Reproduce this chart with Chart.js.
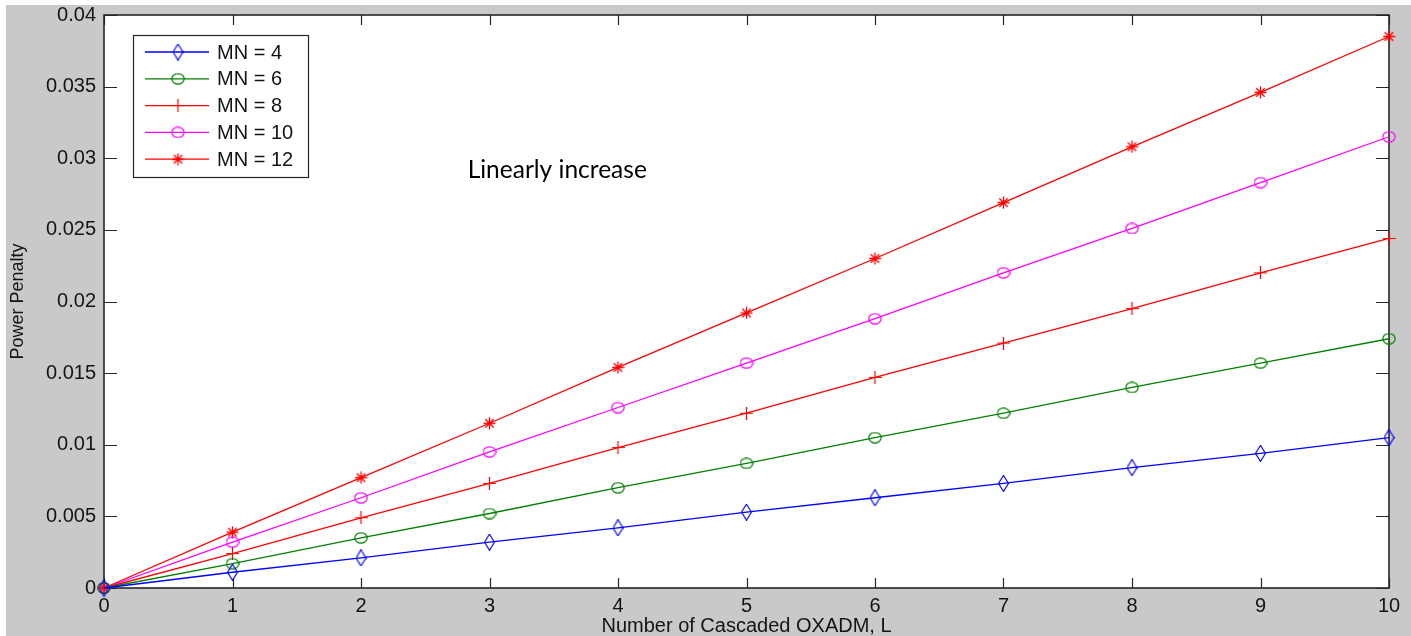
<!DOCTYPE html>
<html>
<head>
<meta charset="utf-8">
<title>Power Penalty vs Number of Cascaded OXADM</title>
<script src="https://cdn.jsdelivr.net/npm/chart.js@4.4.0/dist/chart.umd.min.js"></script>
<style>
  html, body { margin: 0; padding: 0; background: #fff; }
  #wrap { width: 1411px; height: 636px; }
</style>
</head>
<body>
<div id="wrap"><canvas id="penaltyChart" width="1411" height="636"></canvas></div>
<script>
// number of cascaded OXADMs (x axis)
const cascades = [0, 1, 2, 3, 4, 5, 6, 7, 8, 9, 10];

// power penalty for each MN value
const mn4  = [0, 0.0011, 0.0021, 0.0032, 0.0042, 0.0053, 0.0063, 0.0073, 0.0084, 0.0094, 0.0105];
const mn6  = [0, 0.0017, 0.0035, 0.0052, 0.0070, 0.0087, 0.0105, 0.0122, 0.0140, 0.0157, 0.0174];
const mn8  = [0, 0.0024, 0.0049, 0.0073, 0.0098, 0.0122, 0.0147, 0.0171, 0.0195, 0.0220, 0.0244];
const mn10 = [0, 0.0032, 0.0063, 0.0095, 0.0126, 0.0157, 0.0188, 0.0220, 0.0251, 0.0283, 0.0315];
const mn12 = [0, 0.0039, 0.0077, 0.0115, 0.0154, 0.0192, 0.0230, 0.0269, 0.0308, 0.0346, 0.0385];

const seriesLabels = ['MN = 4', 'MN = 6', 'MN = 8', 'MN = 10', 'MN = 12'];

const xTicks = [0, 1, 2, 3, 4, 5, 6, 7, 8, 9, 10];
const xTickLabels = ['0', '1', '2', '3', '4', '5', '6', '7', '8', '9', '10'];
const yTicks = [0, 0.005, 0.01, 0.015, 0.02, 0.025, 0.03, 0.035, 0.04];
const yTickLabels = ['0', '0.005', '0.01', '0.015', '0.02', '0.025', '0.03', '0.035', '0.04'];

const noteText = 'Linearly increase';
const notePos = { x: 2.83, y: 0.0286 };

const AXIS_COLOR = '#262626';
const TEXT_COLOR = '#141414';
const FIG_GRAY = '#c9c9c9';

// MATLAB-like marker glyphs, drawn once to small canvases
function makeMarker(kind, color) {
  const c = document.createElement('canvas');
  let w = 13, h = 13;
  if (kind === 'diamond') { w = 11; h = 17; }
  if (kind === 'circle') { w = 14; h = 12; }
  c.width = w; c.height = h;
  const g = c.getContext('2d');
  g.strokeStyle = color;
  g.lineWidth = 1.2;
  g.beginPath();
  if (kind === 'diamond') {
    g.moveTo(w / 2, 0.5);
    g.lineTo(w - 0.5, h / 2);
    g.lineTo(w / 2, h - 0.5);
    g.lineTo(0.5, h / 2);
    g.closePath();
  } else if (kind === 'circle') {
    g.ellipse(w / 2, h / 2, w / 2 - 0.8, h / 2 - 0.8, 0, 0, Math.PI * 2);
  } else if (kind === 'plus') {
    g.moveTo(w / 2, 0); g.lineTo(w / 2, h);
    g.moveTo(0, h / 2); g.lineTo(w, h / 2);
  } else if (kind === 'star') {
    g.lineWidth = 1.3;
    g.moveTo(w / 2, 0.5); g.lineTo(w / 2, h - 0.5);
    g.moveTo(0.5, h / 2); g.lineTo(w - 0.5, h / 2);
    g.moveTo(2.3, 2.3); g.lineTo(w - 2.3, h - 2.3);
    g.moveTo(w - 2.3, 2.3); g.lineTo(2.3, h - 2.3);
  }
  g.stroke();
  return c;
}

function points(values) {
  return cascades.map((L, i) => ({ x: L, y: values[i] }));
}

function series(label, values, color, marker) {
  return {
    label: label,
    data: points(values),
    borderColor: color,
    backgroundColor: color,
    borderWidth: 1.3,
    pointStyle: makeMarker(marker, color),
    pointRadius: 6,
    pointHoverRadius: 6,
    fill: false,
    tension: 0,
    clip: false
  };
}

// figure background, axes box and inward ticks on all four sides
const matlabFrame = {
  id: 'matlabFrame',
  beforeDraw(chart) {
    const { ctx, chartArea: a } = chart;
    ctx.save();
    ctx.fillStyle = '#fff';
    ctx.fillRect(0, 0, chart.width, chart.height);
    ctx.fillStyle = FIG_GRAY;
    ctx.fillRect(6, 5, chart.width - 6, chart.height - 5);
    ctx.fillStyle = '#fff';
    ctx.fillRect(a.left, a.top, a.right - a.left, a.bottom - a.top);
    ctx.restore();
  },
  beforeDatasetsDraw(chart) {
    const { ctx, chartArea: a, scales } = chart;
    ctx.save();
    ctx.strokeStyle = AXIS_COLOR;
    ctx.lineWidth = 1.2;
    ctx.beginPath();
    xTicks.forEach(v => {
      const px = Math.round(scales.x.getPixelForValue(v)) + 0.5;
      ctx.moveTo(px, a.bottom); ctx.lineTo(px, a.bottom - 10);
      ctx.moveTo(px, a.top); ctx.lineTo(px, a.top + 10);
    });
    yTicks.forEach(v => {
      const py = Math.round(scales.y.getPixelForValue(v)) + 0.5;
      ctx.moveTo(a.left, py); ctx.lineTo(a.left + 13, py);
      ctx.moveTo(a.right, py); ctx.lineTo(a.right - 13, py);
    });
    ctx.stroke();
    ctx.lineWidth = 1.6;
    ctx.strokeRect(a.left, a.top, a.right - a.left, a.bottom - a.top);
    ctx.restore();
  },
  afterDraw(chart) {
    const { ctx, scales } = chart;
    ctx.save();
    // annotation text
    ctx.fillStyle = '#000';
    ctx.font = '24.5px Lato';
    ctx.textBaseline = 'alphabetic';
    ctx.fillText(noteText, scales.x.getPixelForValue(notePos.x), scales.y.getPixelForValue(notePos.y));

    // legend box with line + marker samples
    const bx = 133, by = 35, bw = 175, bh = 142;
    ctx.fillStyle = '#fff';
    ctx.fillRect(bx, by, bw, bh);
    ctx.strokeStyle = AXIS_COLOR;
    ctx.lineWidth = 1.2;
    ctx.strokeRect(bx + 0.5, by + 0.5, bw, bh);
    ctx.font = '20px "Liberation Sans", Arial, sans-serif';
    ctx.textBaseline = 'middle';
    chart.data.datasets.forEach((ds, i) => {
      const y = by + 17 + i * 26.8;
      ctx.strokeStyle = ds.borderColor;
      ctx.lineWidth = ds.borderWidth;
      ctx.beginPath();
      ctx.moveTo(bx + 12, y); ctx.lineTo(bx + 76, y);
      ctx.stroke();
      const m = ds.pointStyle;
      ctx.drawImage(m, bx + 45 - m.width / 2, y - m.height / 2);
      ctx.fillStyle = TEXT_COLOR;
      ctx.fillText(ds.label, bx + 84, y + 1);
    });
    ctx.restore();
  }
};

const ctx = document.getElementById('penaltyChart').getContext('2d');

const penaltyChart = new Chart(ctx, {
  type: 'line',
  data: {
    datasets: [
      series(seriesLabels[0], mn4,  '#0000ff', 'diamond'),
      series(seriesLabels[1], mn6,  '#008000', 'circle'),
      series(seriesLabels[2], mn8,  '#ff0000', 'plus'),
      series(seriesLabels[3], mn10, '#ff00ff', 'circle'),
      series(seriesLabels[4], mn12, '#ff0000', 'star')
    ]
  },
  options: {
    responsive: false,
    animation: false,
    events: [],
    layout: { padding: { left: 0, top: 15, right: 22, bottom: 0 } },
    plugins: {
      legend: { display: false },
      tooltip: { enabled: false }
    },
    scales: {
      x: {
        type: 'linear',
        min: 0,
        max: 10,
        afterBuildTicks: s => { s.ticks = xTicks.map(v => ({ value: v })); },
        afterFit: s => { s.height = 48; },
        grid: { display: false, drawTicks: false },
        border: { display: false },
        ticks: {
          padding: 6,
          color: TEXT_COLOR,
          font: { family: '"Liberation Sans", Arial, sans-serif', size: 20 },
          maxRotation: 0,
          callback: (v, i) => xTickLabels[i]
        },
        title: {
          display: true,
          text: 'Number of Cascaded OXADM, L',
          color: TEXT_COLOR,
          font: { family: '"Liberation Sans", Arial, sans-serif', size: 20, lineHeight: 1 },
          padding: { top: 0, bottom: 0 }
        }
      },
      y: {
        type: 'linear',
        min: 0,
        max: 0.04,
        afterBuildTicks: s => { s.ticks = yTicks.map(v => ({ value: v })); },
        afterFit: s => { s.width = 104; s.paddingTop = 0; s.paddingBottom = 0; },
        grid: { display: false, drawTicks: false },
        border: { display: false },
        ticks: {
          padding: 8,
          color: TEXT_COLOR,
          font: { family: '"Liberation Sans", Arial, sans-serif', size: 20 },
          callback: (v, i) => yTickLabels[i]
        },
        title: {
          display: true,
          text: 'Power Penalty',
          color: TEXT_COLOR,
          font: { family: '"Liberation Sans", Arial, sans-serif', size: 18, lineHeight: 1 },
          padding: { top: 9, bottom: 0 }
        }
      }
    }
  },
  plugins: [matlabFrame]
});
</script>
</body>
</html>
